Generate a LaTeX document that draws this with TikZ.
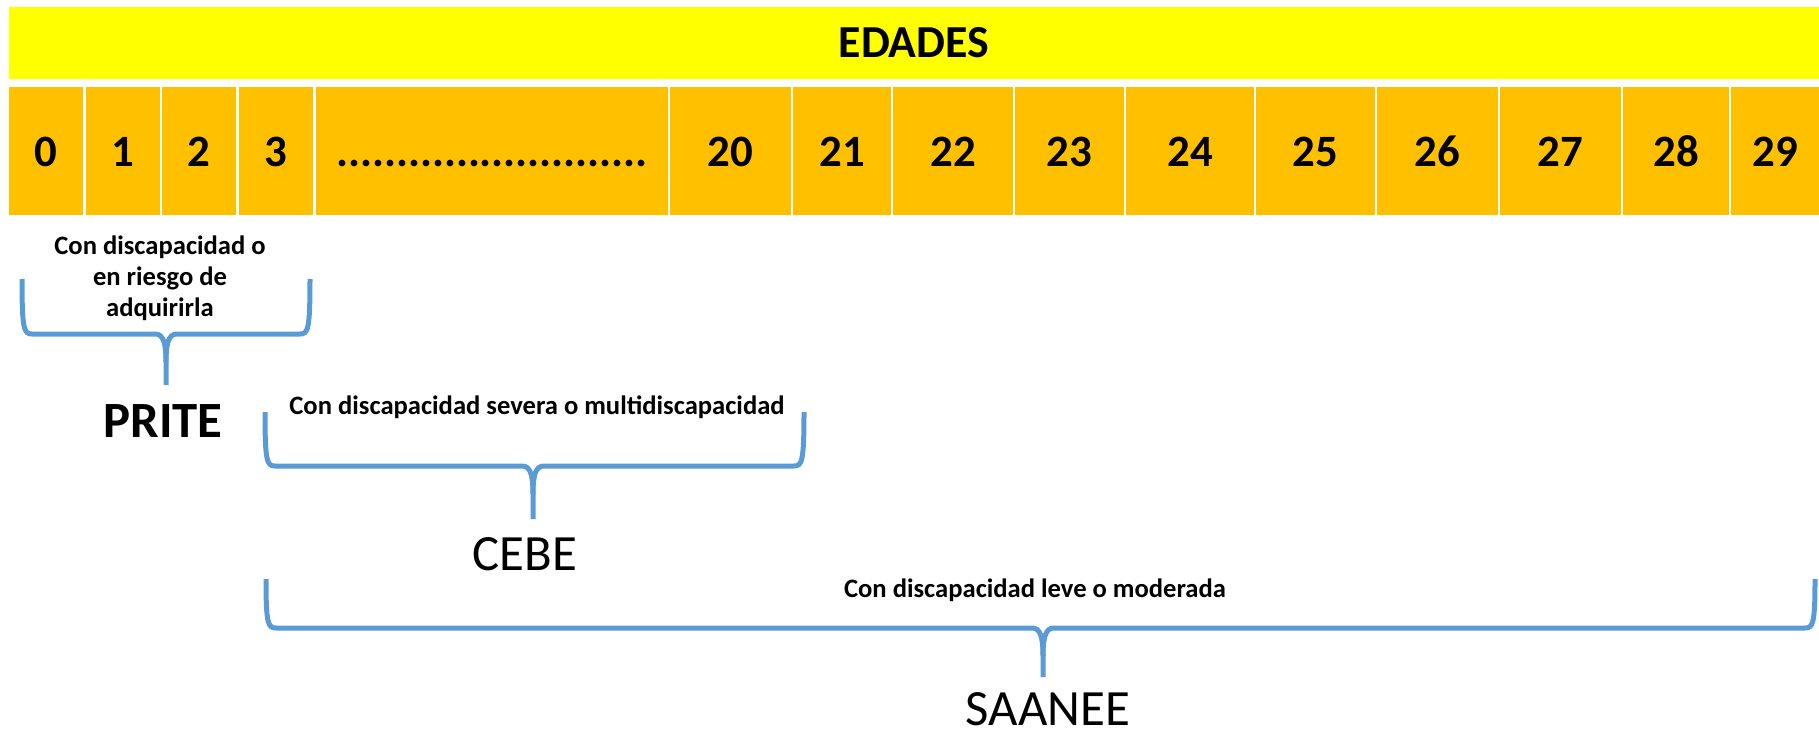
\documentclass[tikz,border=0pt]{standalone}
\usepackage{fontspec}
\setmainfont{Carlito}
\definecolor{gold}{HTML}{FFC000}
\definecolor{ybar}{HTML}{FFFF00}
\definecolor{bblue}{HTML}{5B9BD5}
\newcommand\drawbrace[7]{%
  % #1 name, #2 L, #3 R, #4 top, #5 h, #6 tip, #7 bottom
  \coordinate (#1L) at (#2,#4);
  \coordinate (#1R) at (#3,#4);
  \coordinate (#1tip) at (#6,#7);
  \draw[bracestyle] (#1L) .. controls (#2,{#5-4}) and ({#2+2},#5) .. ({#2+10},#5) -- ({#6-11},#5)
     .. controls ({#6-3},#5) and (#6,{#5+8}) .. (#6,{#5+28}) -- (#1tip);
  \draw[bracestyle] (#1R) .. controls (#3,{#5-4}) and ({#3-2},#5) .. ({#3-10},#5) -- ({#6+11},#5)
     .. controls ({#6+3},#5) and (#6,{#5+8}) .. (#6,{#5+28});
}
\begin{document}
\begin{tikzpicture}[x=1bp,y=-1bp,
  cell/.style={fill=gold, inner sep=0pt, minimum height=128bp, text height=32bp, text depth=0pt,
    font=\fontsize{45}{54}\selectfont\bfseries},
  bracestyle/.style={draw=bblue, line width=5bp},
  smalllab/.style={font=\fontsize{26.7}{31}\selectfont\bfseries, align=center, inner sep=0pt},
  biglab/.style={font=\fontsize{51}{60}\selectfont, inner sep=0pt}]
\useasboundingbox (0,0) rectangle (1819,735);
\node[fill=ybar, minimum width=1810bp, minimum height=72bp, inner sep=0pt,
  font=\fontsize{46}{54}\selectfont\bfseries] (edades) at (914,43) {EDADES};
\foreach \l/\r/\lab/\nm in {9/83/0/c0, 86/160/1/c1, 162/236/2/c2, 239/313/3/c3,
   316/668/{..........................}/cdots, 670/791/20/c20, 793/891/21/c21,
   893/1013/22/c22, 1015/1124/23/c23, 1126/1254/24/c24, 1256/1375/25/c25,
   1377/1498/26/c26, 1500/1621/27/c27, 1623/1729/28/c28, 1731/1819/29/c29} {
  \node[cell, minimum width={(\r-\l)*1bp}] (\nm) at ({(\l+\r)/2},151) {\lab};
}
% brace 1
\node[smalllab] (t1) at (160,278) {Con discapacidad o\\en riesgo de\\adquirirla};
\drawbrace{b1}{22}{310}{279}{334}{166}{385}
\node[biglab, font=\fontsize{51}{60}\selectfont\bfseries] (prite) at (163,421) {PRITE};
% brace 2
\node[smalllab] (t2) at (537,407) {Con discapacidad severa o multidiscapacidad};
\drawbrace{b2}{265}{804}{412}{466}{533}{519}
\node[biglab] (cebe) at (525,554) {CEBE};
% brace 3
\node[smalllab] (t3) at (1035,590) {Con discapacidad leve o moderada};
\drawbrace{b3}{266}{1815}{579}{628}{1043}{677}
\node[biglab] (saanee) at (1048,709) {SAANEE};
\end{tikzpicture}
\end{document}
